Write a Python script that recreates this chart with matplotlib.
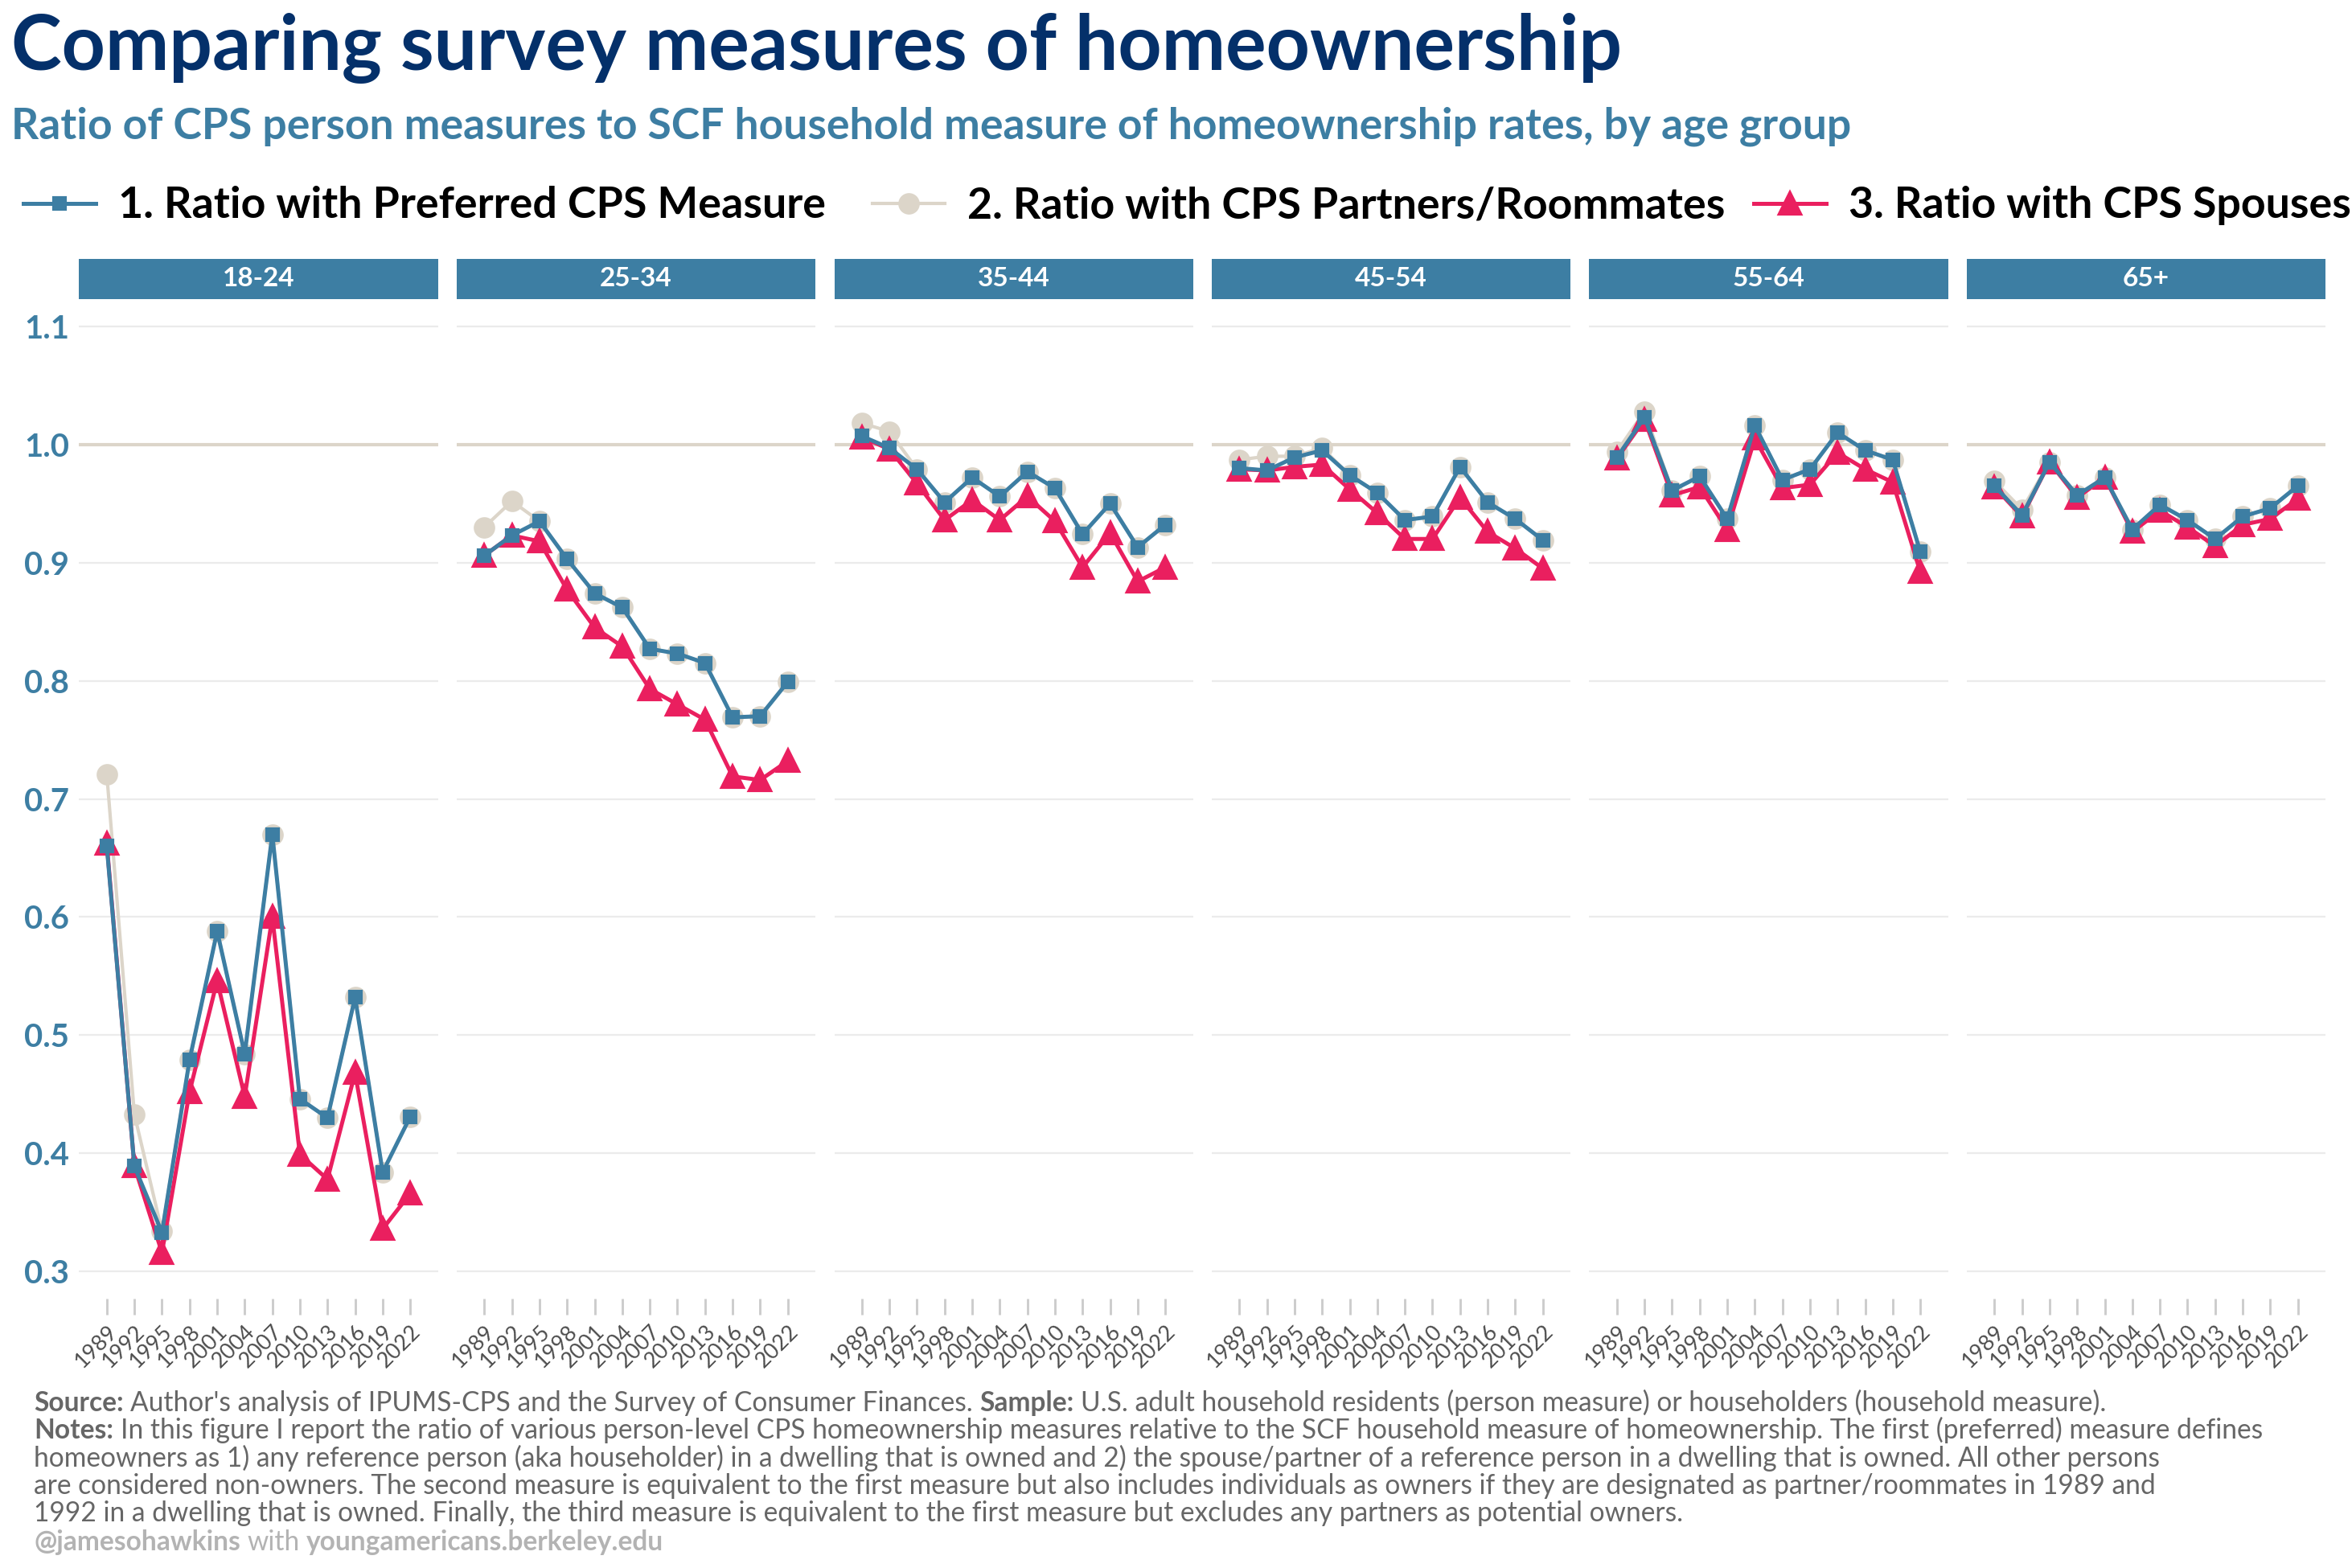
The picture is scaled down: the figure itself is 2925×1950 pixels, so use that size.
import matplotlib
matplotlib.use("Agg")
import matplotlib.pyplot as plt
from matplotlib.lines import Line2D
from matplotlib.patches import Rectangle
from matplotlib.transforms import IdentityTransform

plt.rcParams['font.family'] = ['Lato', 'DejaVu Sans']

# ---- data ----
years = [1989, 1992, 1995, 1998, 2001, 2004, 2007, 2010, 2013, 2016, 2019, 2022]
age_groups = ['18-24', '25-34', '35-44', '45-54', '55-64', '65+']

preferred = {
    '18-24': [0.660, 0.389, 0.333, 0.479, 0.588, 0.484, 0.670, 0.446, 0.430, 0.532, 0.384, 0.431],
    '25-34': [0.906, 0.923, 0.935, 0.903, 0.874, 0.862, 0.827, 0.823, 0.815, 0.769, 0.770, 0.799],
    '35-44': [1.007, 0.997, 0.979, 0.951, 0.972, 0.956, 0.977, 0.963, 0.924, 0.950, 0.913, 0.932],
    '45-54': [0.980, 0.978, 0.989, 0.995, 0.974, 0.959, 0.936, 0.939, 0.981, 0.951, 0.937, 0.919],
    '55-64': [0.989, 1.023, 0.961, 0.973, 0.937, 1.016, 0.970, 0.979, 1.010, 0.995, 0.987, 0.909],
    '65+':   [0.965, 0.940, 0.985, 0.957, 0.972, 0.928, 0.949, 0.936, 0.920, 0.939, 0.946, 0.965],
}
partners = {
    '18-24': [0.721, 0.433, 0.334, 0.479, 0.588, 0.484, 0.670, 0.446, 0.430, 0.532, 0.384, 0.431],
    '25-34': [0.930, 0.952, 0.935, 0.903, 0.874, 0.862, 0.827, 0.823, 0.815, 0.769, 0.770, 0.799],
    '35-44': [1.018, 1.011, 0.979, 0.951, 0.972, 0.956, 0.977, 0.963, 0.924, 0.950, 0.913, 0.932],
    '45-54': [0.987, 0.990, 0.990, 0.997, 0.974, 0.959, 0.936, 0.939, 0.981, 0.951, 0.937, 0.919],
    '55-64': [0.994, 1.028, 0.961, 0.973, 0.937, 1.016, 0.970, 0.979, 1.010, 0.995, 0.987, 0.909],
    '65+':   [0.969, 0.945, 0.985, 0.957, 0.972, 0.928, 0.949, 0.936, 0.920, 0.939, 0.946, 0.965],
}
spouses = {
    '18-24': [0.662, 0.389, 0.316, 0.452, 0.546, 0.448, 0.600, 0.399, 0.378, 0.468, 0.336, 0.366],
    '25-34': [0.906, 0.923, 0.918, 0.877, 0.845, 0.829, 0.793, 0.780, 0.767, 0.719, 0.716, 0.732],
    '35-44': [1.006, 0.996, 0.967, 0.936, 0.953, 0.936, 0.956, 0.935, 0.896, 0.925, 0.884, 0.896],
    '45-54': [0.979, 0.978, 0.981, 0.983, 0.962, 0.942, 0.920, 0.920, 0.955, 0.926, 0.912, 0.895],
    '55-64': [0.988, 1.021, 0.957, 0.964, 0.928, 1.005, 0.963, 0.966, 0.993, 0.979, 0.968, 0.892],
    '65+':   [0.964, 0.939, 0.985, 0.955, 0.972, 0.926, 0.944, 0.930, 0.914, 0.932, 0.937, 0.954],
}
y_ticks = [0.3, 0.4, 0.5, 0.6, 0.7, 0.8, 0.9, 1.0, 1.1]

# ---- colours ----
navy = '#04306a'
blue = '#3d7ea3'
tan = '#dcd5c9'
pink = '#ea1f5f'

W, H = 2925, 1950
fig = plt.figure(figsize=(W / 300, H / 300), dpi=300)

# panel geometry in pixels
panel_w = 446
panel_step = 469.5
panel_left0 = 98.5
panel_top, panel_bot = 372, 1615
strip_top = 322

for i, grp in enumerate(age_groups):
    left = panel_left0 + i * panel_step
    ax = fig.add_axes([left / W, 1 - panel_bot / H, panel_w / W, (panel_bot - panel_top) / H])
    ax.set_xlim(1986, 2025)
    ax.set_ylim(0.277, 1.123)
    for s in ax.spines.values():
        s.set_visible(False)
    for yv in y_ticks:
        ax.axhline(yv, color='#ebebeb', lw=0.55, zorder=0)
    ax.axhline(1.0, color=tan, lw=1.0, zorder=0.5)

    ax.plot(years, partners[grp], color=tan, lw=1.0, marker='o', ms=5.4, zorder=2)
    ax.plot(years, spouses[grp], color=pink, lw=1.2, marker='^', ms=6.2, zorder=3)
    ax.plot(years, preferred[grp], color=blue, lw=1.2, marker='s', ms=3.3, zorder=4)

    ax.set_xticks(years)
    ax.set_xticklabels([str(y) for y in years], rotation=45, ha='right',
                       rotation_mode='anchor', fontsize=6.5, color='#4d4d4d')
    ax.tick_params(axis='x', length=4.8, width=0.7, color='#cccccc', pad=2.0)
    ax.set_yticks(y_ticks)
    if i == 0:
        ax.set_yticklabels([f'{v:.1f}' for v in y_ticks], fontsize=9.6,
                           fontweight='bold', color=blue)
        ax.tick_params(axis='y', length=0, pad=3)
    else:
        ax.tick_params(axis='y', length=0, labelleft=False)

    # facet strip
    sh = (panel_top - strip_top) / (panel_bot - panel_top)
    ax.add_patch(Rectangle((0, 1.0), 1, sh, transform=ax.transAxes,
                           facecolor=blue, edgecolor='none', clip_on=False))
    ax.text(0.5, 1 + sh / 2, grp, transform=ax.transAxes, ha='center', va='center',
            color='white', fontsize=8, fontweight='bold')


def px(x, y):
    return x, H - y


# title / subtitle
fig.text(*px(14, 87), 'Comparing survey measures of homeownership', transform=IdentityTransform(),
         fontsize=22.75, fontweight='bold', color=navy, va='baseline')
fig.text(*px(14, 172), 'Ratio of CPS person measures to SCF household measure of homeownership rates, by age group',
         transform=IdentityTransform(), fontsize=12.83, fontweight='bold', color=blue, va='baseline')

# legend
legend_items = [
    ('1. Ratio with Preferred CPS Measure', blue, 's', 3.3, 1.2, 29),
    ('2. Ratio with CPS Partners/Roommates', tan, 'o', 5.4, 1.0, 1085),
    ('3. Ratio with CPS Spouses', pink, '^', 6.2, 1.2, 2181),
]
for label, col, mk, ms, lw, x0 in legend_items:
    ly = H - 253
    fig.add_artist(Line2D([x0, x0 + 45, x0 + 90], [ly, ly, ly], transform=IdentityTransform(),
                          color=col, lw=lw, marker=mk, ms=ms, markevery=[1]))
    fig.text(x0 + 118, H - 271, label, transform=IdentityTransform(), fontsize=12.9,
             color='black', va='baseline', fontweight='bold')

# footer with mixed weights
renderer = fig.canvas.get_renderer()


def text_w(s, size, weight):
    t = fig.text(0, 0, s, fontsize=size, fontweight=weight, transform=IdentityTransform())
    w = t.get_window_extent(renderer).width
    t.remove()
    return w


def draw_runs(x, y, runs, size, color):
    space = text_w('n n', size, 'normal') - text_w('nn', size, 'normal')
    for s, bold in runs:
        wt = 'bold' if bold else 'normal'
        lead = len(s) - len(s.lstrip(' '))
        trail = len(s) - len(s.rstrip(' '))
        core = s.strip(' ')
        x += lead * space
        t = fig.text(x, H - y, core, fontsize=size, fontweight=wt, color=color,
                     transform=IdentityTransform(), va='baseline')
        x += t.get_window_extent(renderer).width + trail * space


foot_size = 8.05
foot_col = '#666666'
foot_lines = [
    [('Source:', True), (" Author's analysis of IPUMS-CPS and the Survey of Consumer Finances. ", False),
     ('Sample:', True), (' U.S. adult household residents (person measure) or householders (household measure).', False)],
    [('Notes:', True), (' In this figure I report the ratio of various person-level CPS homeownership measures '
                        'relative to the SCF household measure of homeownership. The first (preferred) measure defines', False)],
    [('homeowners as 1) any reference person (aka householder) in a dwelling that is owned and 2) the '
      'spouse/partner of a reference person in a dwelling that is owned. All other persons', False)],
    [('are considered non-owners. The second measure is equivalent to the first measure but also includes '
      'individuals as owners if they are designated as partner/roommates in 1989 and', False)],
    [('1992 in a dwelling that is owned. Finally, the third measure is equivalent to the first measure '
      'but excludes any partners as potential owners.', False)],
]
for k, runs in enumerate(foot_lines):
    draw_runs(42, 1755 + k * 34.25, runs, foot_size, foot_col)
draw_runs(42, 1928, [('@jamesohawkins', True), (' with ', False), ('youngamericans.berkeley.edu', True)],
          foot_size, '#b3b3b3')

fig.savefig('out.png', dpi=300, facecolor='white')
